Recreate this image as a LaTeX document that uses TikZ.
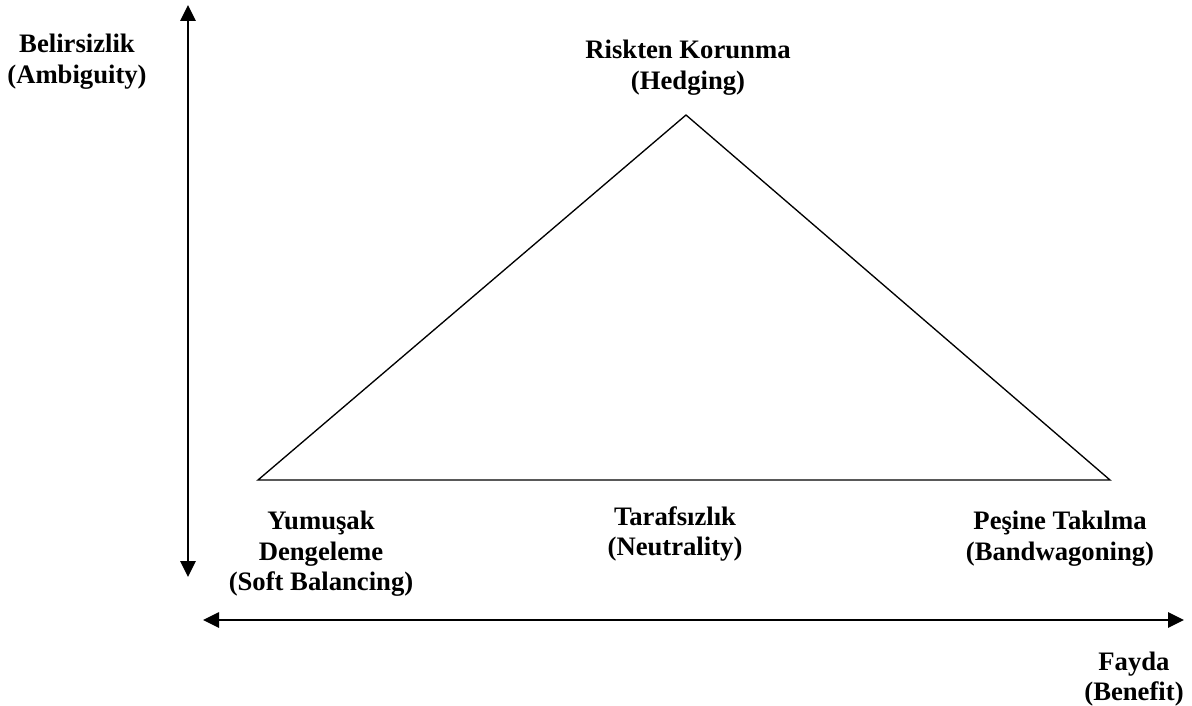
\documentclass[tikz,border=0pt]{standalone}
\usepackage{fontspec}
\setmainfont{Liberation Serif}
\usetikzlibrary{positioning,arrows.meta}

\tikzset{
  lbl/.style={align=center,font=\fontsize{20}{23}\selectfont\bfseries,inner sep=0pt},
  axis/.style={line width=1.2pt,{Triangle[length=12pt,width=11.5pt]}-{Triangle[length=12pt,width=11.5pt]}}
}

\begin{document}
\begin{tikzpicture}[x=0.75pt,y=-0.75pt]
          \useasboundingbox (0,0) rectangle (1192,706);

          \draw (686,115) coordinate (top);
          \draw (258,480) coordinate (left);
          \draw (1110,480) coordinate (right);

          \draw (188,5) coordinate (ytop);
          \draw (188,577) coordinate (ybot);
          \draw (203,620) coordinate (xleft);
          \draw (1184,620) coordinate (xright);

          \draw (77,62) node[lbl] (amb)
          {Belirsizlik\\(Ambiguity)};

          \draw (688,68) node[lbl] (hedge) {Riskten Korunma\\(Hedging)};

          \draw (321,554) node[lbl] (soft)
          {Yumuşak\\Dengeleme\\(Soft Balancing)};

          \draw (675,534) node[lbl] (neutral) {Tarafsızlık\\(Neutrality)};

          \draw (1060,539) node[lbl] (band)
          {Peşine Takılma\\(Bandwagoning)};

          \draw (1134,679) node[lbl] (benefit) {Fayda\\(Benefit)};

          \draw[line width=1pt] (left) -- (top) -- (right) -- cycle;

          \draw[axis] (ybot) -- (ytop);

          \draw[axis] (xleft) -- (xright);
        \end{tikzpicture}
\end{document}
